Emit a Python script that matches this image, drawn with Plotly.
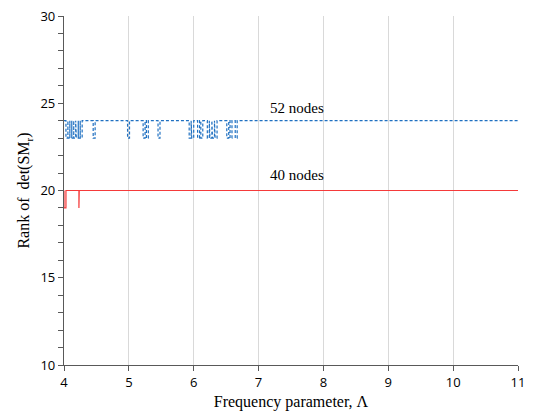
import plotly.graph_objects as go

# Data
dips_52 = [4.03, 4.06, 4.09, 4.12, 4.15, 4.19, 4.22, 4.25, 4.45,
           4.98, 5.22, 5.27, 5.45, 5.93, 5.97, 6.06, 6.11, 6.21, 6.25,
           6.29, 6.33, 6.51, 6.56, 6.64]
base_52 = 24
low_52 = 23
dips_40 = [4.0, 4.23]
dip_widths_40 = [0.03, 0.005]
base_40 = 20
low_40 = 19
x_range = [4, 11]
y_range = [10, 30]

DIP_W = 0.03


def build_series(dips, widths, base, low):
    xs, ys = [x_range[0]], [base]
    for d, w in zip(dips, widths):
        xs += [d, d, d + w, d + w]
        ys += [base, low, low, base]
    xs.append(x_range[1])
    ys.append(base)
    return xs, ys


x52, y52 = build_series(dips_52, [DIP_W] * len(dips_52), base_52, low_52)
x40, y40 = build_series(dips_40, dip_widths_40, base_40, low_40)

fig = go.Figure()
fig.add_trace(go.Scatter(x=x52, y=y52, mode="lines",
                         line=dict(color="#1f70c1", width=1.2, dash="3px,2px"),
                         showlegend=False, hoverinfo="skip"))
fig.add_trace(go.Scatter(x=x40, y=y40, mode="lines",
                         line=dict(color="#f53a3a", width=1.2),
                         showlegend=False, hoverinfo="skip"))

serif = "Liberation Serif, Times New Roman, serif"
sans = "Open Sans, Liberation Sans, sans-serif"

fig.add_annotation(x=7.6, y=24.75, text="52 nodes", showarrow=False,
                   font=dict(family=serif, size=15, color="black"))
fig.add_annotation(x=7.6, y=20.9, text="40 nodes", showarrow=False,
                   font=dict(family=serif, size=15, color="black"))

fig.update_layout(
    width=525, height=408,
    margin=dict(l=56, r=15, t=8, b=51, autoexpand=False),
    paper_bgcolor="white", plot_bgcolor="white",
    xaxis=dict(range=x_range, dtick=1, tick0=4, automargin=False,
               ticklabeloverflow="allow",
               showgrid=True, gridcolor="#d9d9d9", gridwidth=1,
               showline=True, linecolor="#595959", linewidth=1.3,
               ticks="outside", ticklen=5, tickcolor="#595959",
               zeroline=False,
               tickfont=dict(family=sans, size=13, color="black"),
               title=dict(text="Frequency parameter, Λ", standoff=6,
                          font=dict(family=serif, size=16, color="black"))),
    yaxis=dict(range=y_range, dtick=5, tick0=10, automargin=False,
               ticklabeloverflow="allow",
               showgrid=False,
               showline=True, linecolor="#595959", linewidth=1.3,
               ticks="outside", ticklen=5, tickcolor="#595959",
               minor=dict(dtick=1, ticks="outside", ticklen=5, tickcolor="#595959", showgrid=False),
               zeroline=False,
               tickfont=dict(family=sans, size=13, color="black"),
               title=dict(text="Rank of  det(SM<sub>r</sub>)", standoff=6,
                          font=dict(family=serif, size=16, color="black"))),
)

fig.write_html("out.html")
